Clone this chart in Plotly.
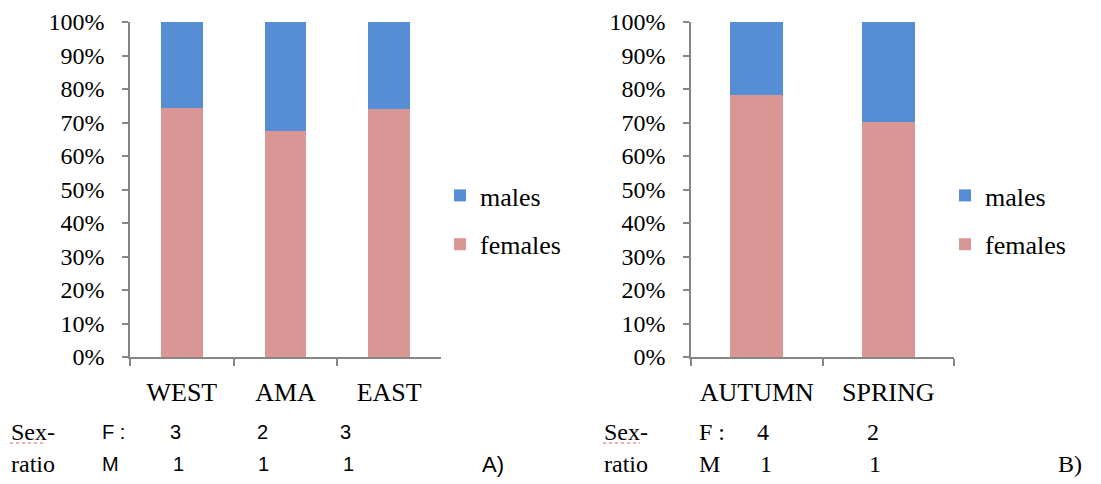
import plotly.graph_objects as go

# ---- data ----
regions = ["WEST", "AMA", "EAST"]
females_regions = [74.3, 67.6, 74.0]
males_regions = [25.7, 32.4, 26.0]

seasons = ["AUTUMN", "SPRING"]
females_seasons = [78.2, 70.1]
males_seasons = [21.8, 29.9]

ratio_F_regions = ["3", "2", "3"]
ratio_M_regions = ["1", "1", "1"]
ratio_F_seasons = ["4", "2"]
ratio_M_seasons = ["1", "1"]

y_ticks = list(range(0, 101, 10))
y_tick_labels = [f"{v}%" for v in y_ticks]

FEM = "#D99694"
MAL = "#558ED5"
AXC = "#868686"
SERIF = "Liberation Serif"
SANS = "Liberation Sans"
W, H = 1101, 484

fig = go.Figure()
fig.add_trace(go.Bar(x=regions, y=females_regions, name="females", marker_color=FEM,
                     xaxis="x", yaxis="y", legend="legend", legendgroup="f1", legendrank=2))
fig.add_trace(go.Bar(x=regions, y=males_regions, name="males", marker_color=MAL,
                     xaxis="x", yaxis="y", legend="legend", legendgroup="m1", legendrank=1))
fig.add_trace(go.Bar(x=seasons, y=females_seasons, name="females", marker_color=FEM,
                     xaxis="x2", yaxis="y2", legend="legend2", legendgroup="f2", legendrank=2))
fig.add_trace(go.Bar(x=seasons, y=males_seasons, name="males", marker_color=MAL,
                     xaxis="x2", yaxis="y2", legend="legend2", legendgroup="m2", legendrank=1))
fig.update_traces(marker_line_width=0, hoverinfo="skip")

ydom = [(H - 357) / H, (H - 22) / H]

def xax(domain, anchor):
    return dict(domain=domain, anchor=anchor, showline=True, linecolor=AXC, linewidth=1.5,
                ticks="outside", tickson="boundaries", ticklen=7, tickcolor=AXC, tickwidth=1.5,
                tickfont=dict(family=SERIF, size=26, color="black"), showgrid=False,
                zeroline=False, ticklabelstandoff=11, fixedrange=True, automargin=False)

def yax(anchor):
    return dict(domain=ydom, anchor=anchor, range=[0, 100], autorange=False,
                tickmode="array", tickvals=y_ticks, ticktext=y_tick_labels,
                showline=True, linecolor=AXC, linewidth=1.5, ticks="outside", ticklen=6,
                tickcolor=AXC, tickwidth=1.5, showgrid=False, zeroline=False,
                tickfont=dict(family=SERIF, size=24, color="black"), ticklabelstandoff=13,
                fixedrange=True, automargin=False)

def leg(xpx):
    return dict(x=xpx / W, y=(H - 220) / H, xanchor="left", yanchor="middle",
                traceorder="grouped", tracegroupgap=12, bgcolor="rgba(0,0,0,0)",
                font=dict(family=SERIF, size=26, color="black"))

fig.update_layout(
    template="none",
    font=dict(family=SERIF, size=24, color="black"),
    width=W, height=H, margin=dict(l=0, r=0, t=0, b=0, autoexpand=False),
    paper_bgcolor="white", plot_bgcolor="white",
    barmode="stack", bargap=0.6, showlegend=True,
    xaxis=xax([130 / W, 441 / W], "y"),
    yaxis=yax("x"),
    xaxis2=xax([691 / W, 954 / W], "y2"),
    yaxis2=yax("x2"),
    legend=leg(440),
    legend2=leg(945),
)

# ---- sex-ratio text below the charts ----
def ann(x, y, text, family, size, xanchor="left"):
    fig.add_annotation(x=x / W, y=(H - y) / H, xref="paper", yref="paper", text=text,
                       showarrow=False, xanchor=xanchor, yanchor="middle",
                       font=dict(family=family, size=size, color="black"))

row_f, row_m = 432, 464
ann(9, row_f, "Sex-", SERIF, 24)
ann(9, row_m, "ratio", SERIF, 24)
ann(100, row_f, "F :", SANS, 20)
ann(100, row_m, "M", SANS, 20)
for xc, t in zip([175, 262, 345], ratio_F_regions):
    ann(xc, row_f, t, SANS, 20, "center")
for xc, t in zip([178, 263, 348], ratio_M_regions):
    ann(xc, row_m, t, SANS, 20, "center")
ann(480, row_m, "A)", SANS, 22)

ann(602, row_f, "Sex-", SERIF, 24)
ann(602, row_m, "ratio", SERIF, 24)
ann(697, row_f, "F :", SERIF, 24)
ann(697, row_m, "M", SERIF, 24)
for xc, t in zip([763, 873], ratio_F_seasons):
    ann(xc, row_f, t, SERIF, 24, "center")
for xc, t in zip([766, 875], ratio_M_seasons):
    ann(xc, row_m, t, SERIF, 24, "center")
ann(1056, row_m, "B)", SERIF, 24)

# spell-check style underline under "Sex"
for x0, x1 in [(10, 46), (603, 640)]:
    fig.add_shape(type="line", xref="paper", yref="paper", x0=x0 / W, x1=x1 / W,
                  y0=(H - 443) / H, y1=(H - 443) / H,
                  line=dict(color="#E06060", width=1, dash="dot"))

fig.write_html("out.html", config={"displayModeBar": False},
               post_script="document.body.style.margin='0px';")
